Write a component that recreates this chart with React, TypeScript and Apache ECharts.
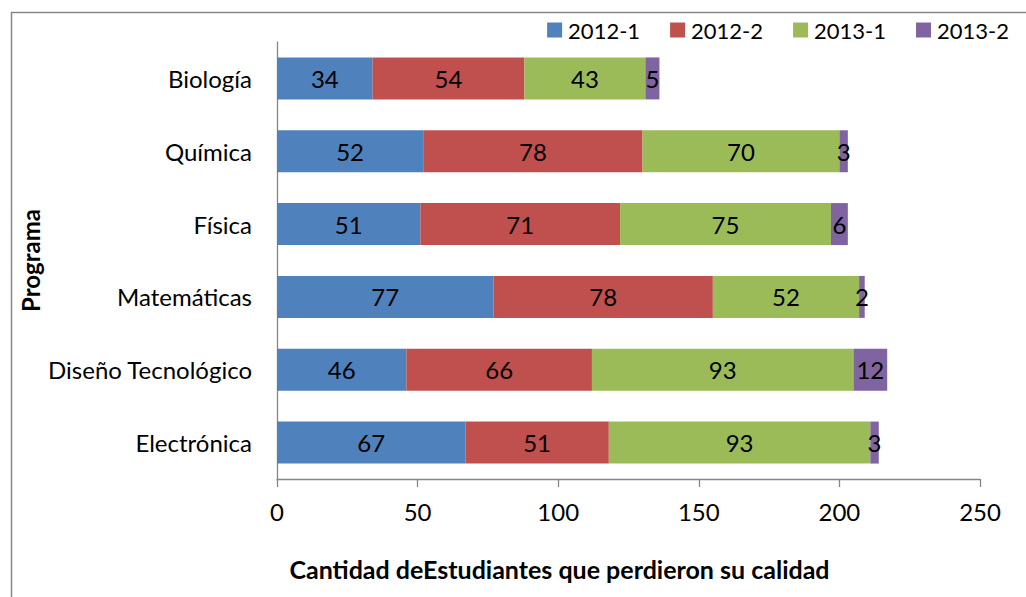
import React, { useEffect, useRef } from "react";
import * as echarts from "echarts";

const categories = ["Biología", "Química", "Física", "Matemáticas", "Diseño Tecnológico", "Electrónica"];
const seriesNames = ["2012-1", "2012-2", "2013-1", "2013-2"];
const s2012_1 = [34, 52, 51, 77, 46, 67];
const s2012_2 = [54, 78, 71, 78, 66, 51];
const s2013_1 = [43, 70, 75, 52, 93, 93];
const s2013_2 = [5, 3, 6, 2, 12, 3];
const xTicks = { min: 0, max: 250, interval: 50 };
const colors = ["#4F81BD", "#C0504D", "#9BBB59", "#8064A2"];

const FONT = "Lato";

export default function App() {
  const ref = useRef<HTMLDivElement>(null);
  useEffect(() => {
    if (!ref.current) return;
    const chart = echarts.init(ref.current, null, { renderer: "svg" });
    const values = [s2012_1, s2012_2, s2013_1, s2013_2];
    chart.setOption({
      animation: false,
      textStyle: { fontFamily: FONT },
      color: colors,
      graphic: [
        {
          type: "rect",
          shape: { x: 11.5, y: 12.5, width: 1100, height: 700 },
          style: { fill: "none", stroke: "#878787", lineWidth: 1.5 },
          silent: true,
        },
      ],
      legend: {
        top: 14,
        right: 12,
        itemWidth: 15,
        itemHeight: 15,
        itemGap: 30,
        icon: "rect",
        textStyle: { fontSize: 22, color: "#000", fontFamily: FONT, padding: [0, 0, 0, 1] },
        data: seriesNames,
      },
      grid: { left: 277, right: 46, top: 42, bottom: 118, containLabel: false },
      xAxis: {
        type: "value",
        min: xTicks.min,
        max: xTicks.max,
        interval: xTicks.interval,
        splitLine: { show: false },
        axisLine: { show: true, lineStyle: { color: "#868686", width: 1.3 } },
        axisTick: { show: true, length: 8, lineStyle: { color: "#868686", width: 1.3 } },
        axisLabel: { color: "#000", fontSize: 24, margin: 20, fontFamily: FONT },
        name: "Cantidad deEstudiantes que perdieron su calidad",
        nameLocation: "middle",
        nameGap: 77,
        nameMoveOverlap: false,
        nameTextStyle: {
          fontSize: 25,
          fontWeight: "bold",
          color: "#000",
          fontFamily: FONT,
          padding: [0, 138, 0, 0],
        },
      },
      yAxis: {
        type: "category",
        data: categories,
        inverse: true,
        axisLine: { show: true, lineStyle: { color: "#868686", width: 1.3 } },
        axisTick: { show: false },
        axisLabel: { color: "#000", fontSize: 24, margin: 25, fontFamily: FONT },
        name: "Programa",
        nameLocation: "middle",
        nameGap: 235,
        nameMoveOverlap: false,
        nameTextStyle: { fontSize: 24, fontWeight: "bold", color: "#000", fontFamily: FONT },
      },
      series: seriesNames.map((name, i) => ({
        name,
        type: "bar",
        stack: "total",
        barWidth: 42,
        data: values[i],
        itemStyle: { color: colors[i] },
        label: {
          show: true,
          position: "inside",
          color: "#000",
          fontSize: 24,
          fontFamily: FONT,
        },
      })),
    });
    return () => chart.dispose();
  }, []);
  return (
    <div
      ref={ref}
      style={{ position: "fixed", left: 0, top: 0, width: 1026, height: 597, background: "#fff" }}
    />
  );
}
